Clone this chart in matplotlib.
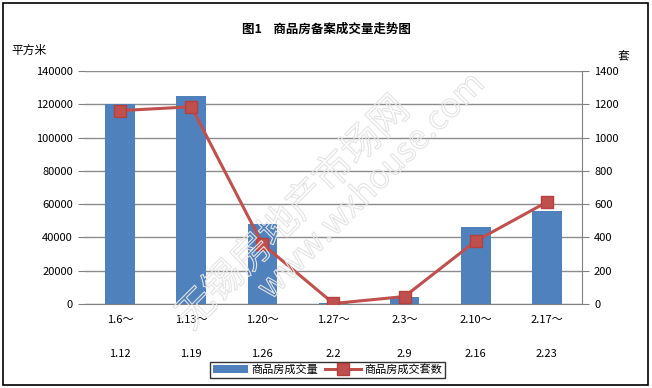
import matplotlib.pyplot as plt
import numpy as np
from matplotlib.patches import Rectangle
import matplotlib.patheffects as pe

plt.rcParams['font.family'] = ['Noto Sans CJK SC', 'DejaVu Sans']

# data
periods = ['1.6～\n\n1.12', '1.13～\n\n1.19', '1.20～\n\n1.26', '1.27～\n\n2.2',
           '2.3～\n\n2.9', '2.10～\n\n2.16', '2.17～\n\n2.23']
area = [120000, 125000, 48000, 300, 4400, 46000, 56000]      # 商品房成交量 (平方米)
units = [1162, 1185, 360, 3, 45, 378, 612]                    # 商品房成交套数 (套)

bar_color = '#4F81BD'
line_color = '#C0504D'

fig = plt.figure(figsize=(6.52, 3.88), dpi=100)
ax = fig.add_axes([0.130, 0.2165, 0.763, 0.6005])
ax2 = ax.twinx()

x = np.arange(len(periods))
bars = ax.bar(x, area, width=0.42, color=bar_color, zorder=2, label='商品房成交量')
line, = ax2.plot(x, units, color=line_color, lw=2.2, marker='s', ms=9,
                 mfc=line_color, mec='#B5403D', zorder=3, label='商品房成交套数')

ax.set_ylim(0, 140000)
ax.set_yticks(np.arange(0, 140001, 20000))
ax2.set_ylim(0, 1400)
ax2.set_yticks(np.arange(0, 1401, 200))
ax.set_xlim(-0.5, len(periods) - 0.5)
ax.set_xticks(x)
ax.set_xticklabels(periods, fontsize=8, linespacing=1.85)
ax.tick_params(axis='x', length=0, pad=8)
ax.tick_params(axis='y', length=5, color='#808080', labelsize=8, direction='out')
ax2.tick_params(axis='y', length=5, color='#808080', labelsize=8, direction='out')

ax.yaxis.grid(True, color='#8C8C8C', lw=1)
ax.set_axisbelow(True)
ax2.set_zorder(ax.get_zorder() + 1)
ax2.patch.set_visible(False)

for a in (ax, ax2):
    for s in ['top', 'left']:
        a.spines[s].set_visible(False)
    a.spines['bottom'].set_color('#808080')
    a.spines['right'].set_color('#808080')
ax.spines['right'].set_visible(False)
ax2.spines['bottom'].set_visible(False)

fig.text(0.5, 0.925, '图1    商品房备案成交量走势图', ha='center', va='center',
         fontsize=9, fontweight='bold')
fig.text(0.018, 0.87, '平方米', ha='left', va='center', fontsize=8.5)
fig.text(0.947, 0.853, '套', ha='left', va='center', fontsize=8.5)

# faint outlined watermark
wm = dict(rotation=45, color='none', ha='center', va='center', zorder=5,
          path_effects=[pe.withStroke(linewidth=0.8, foreground='#E4E4E4')])
fig.text(0.45, 0.45, '无锡房地产市场网', fontsize=28, **wm)
fig.text(0.57, 0.52, 'www.wxhouse.com', fontsize=24, **wm)

fig.legend(handles=[bars, line], loc='center', bbox_to_anchor=(0.502, 0.047),
           ncol=2, fontsize=8, frameon=True, fancybox=False, edgecolor='black',
           handlelength=3.2, handletextpad=0.3, columnspacing=0.6,
           borderpad=0.25, borderaxespad=0)

fig.patches.append(Rectangle((0.004, 0.008), 0.99, 0.985, transform=fig.transFigure,
                             fill=False, edgecolor='black', lw=1.2))

fig.savefig('out.png', dpi=100)
